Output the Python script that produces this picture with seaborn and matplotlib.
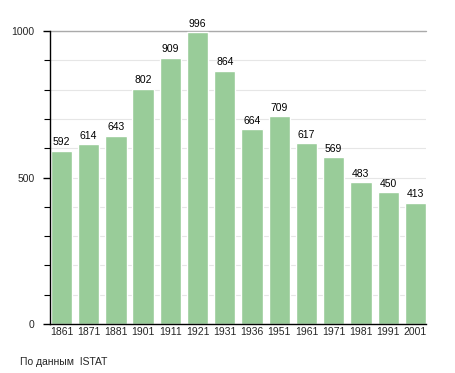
import matplotlib
matplotlib.use("Agg")
import matplotlib.pyplot as plt
import seaborn as sns
import pandas as pd
from matplotlib.ticker import MultipleLocator

years = ["1861", "1871", "1881", "1901", "1911", "1921", "1931", "1936",
         "1951", "1961", "1971", "1981", "1991", "2001"]
population = [592, 614, 643, 802, 909, 996, 864, 664, 709, 617, 569, 483, 450, 413]
source_note = "По данным  ISTAT"

df = pd.DataFrame({"year": years, "pop": population})

sns.set_theme(style="white")
plt.rcParams['font.family'] = ['Liberation Sans', 'DejaVu Sans']

fig = plt.figure(figsize=(4.55, 3.73), dpi=100)
ax = fig.add_axes([50/455, 49/373, 376/455, 293/373])

bw = 0.78
sns.barplot(data=df, x="year", y="pop", color="#99cc99", saturation=1,
            width=bw, ax=ax, zorder=3)

ax.set_ylim(0, 1000)
ax.set_xlim(-bw/2 - 0.03, len(years) - 1 + bw/2)
ax.yaxis.set_major_locator(MultipleLocator(500))
ax.yaxis.set_minor_locator(MultipleLocator(100))
ax.grid(True, which="both", axis="y", color="#e6e6e6", linewidth=0.8, zorder=0)
ax.axhline(1000, color="#aaaaaa", linewidth=1, zorder=1, clip_on=False)

for s in ["top", "right"]:
    ax.spines[s].set_visible(False)
for s in ["left", "bottom"]:
    ax.spines[s].set_color("black")
    ax.spines[s].set_linewidth(1.0)
ax.spines["left"].set_zorder(5)
ax.spines["bottom"].set_zorder(5)

ax.tick_params(axis="y", which="major", length=5, width=1, color="black",
               labelsize=7.5, pad=6, left=True)
ax.tick_params(axis="y", which="minor", length=4, width=0.8, color="black", left=True)
ax.tick_params(axis="x", length=0, labelsize=7.5, pad=2)
ax.set_xlabel("")
ax.set_ylabel("")

for i, v in enumerate(population):
    ax.text(i, v + 12, str(v), ha="center", va="bottom", fontsize=7.5, color="black")

fig.text(20/455, 1 - 362/373, source_note, ha="left", va="center", fontsize=7.5)

fig.savefig("out.png", dpi=100)
